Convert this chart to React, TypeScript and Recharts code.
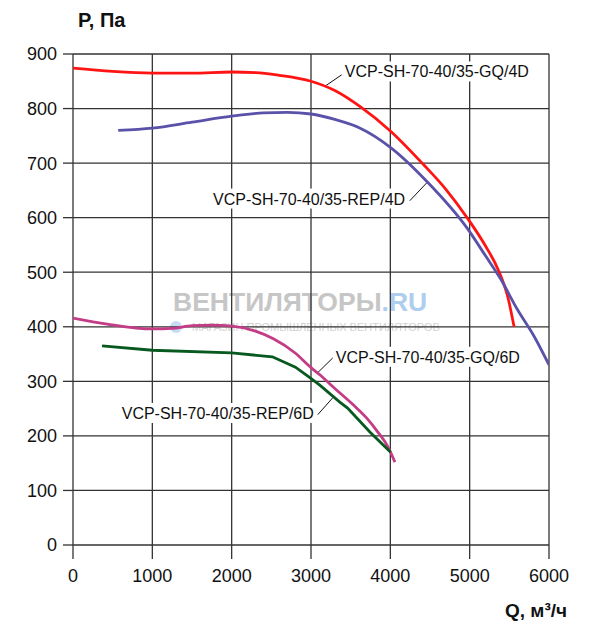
import React from "react";
import { LineChart, Line, XAxis, YAxis, CartesianGrid, ReferenceDot, ReferenceLine } from "recharts";

const xTicks = [0, 1000, 2000, 3000, 4000, 5000, 6000];
const yTicks = [0, 100, 200, 300, 400, 500, 600, 700, 800, 900];

const gq4dQ = [0, 500, 1000, 1500, 2000, 2300, 2600, 3000, 3300, 3625, 4000, 4420, 4700, 4977, 5200, 5355, 5480, 5560];
const gq4dP = [874, 868, 865, 865, 867, 866, 861, 850, 833, 803, 759, 697, 652, 598, 548, 506, 455, 400];

const rep4dQ = [570, 1000, 1500, 2000, 2400, 2700, 3000, 3300, 3620, 4000, 4470, 4977, 5200, 5393, 5600, 5810, 6000];
const rep4dP = [760, 764, 775, 786, 792, 793, 790, 780, 764, 729, 665, 579, 530, 487, 432, 383, 330];

const gq6dQ = [0, 430, 1000, 1250, 1500, 1750, 2008, 2300, 2526, 2800, 2994, 3111, 3300, 3532, 3700, 3843, 3970, 4058];
const gq6dP = [416, 405, 396, 397, 402, 403, 401, 392, 378, 352, 326, 312, 287, 257, 233, 207, 180, 152];

const rep6dQ = [366, 1000, 2000, 2513, 2804, 2994, 3111, 3363, 3461, 3742, 4004];
const rep6dP = [365, 357, 352, 345, 326, 306, 293, 262, 251, 207, 170];

const seriesNames = ["VCP-SH-70-40/35-GQ/4D", "VCP-SH-70-40/35-REP/4D", "VCP-SH-70-40/35-GQ/6D", "VCP-SH-70-40/35-REP/6D"];
// label anchor (data coords), anchor side, leader segment
const labelQ = [3426, 4186, 3313, 3035];
const labelP = [868, 635, 345, 242];
const labelSide = ["start", "end", "start", "end"];
const leaderQ1 = [3187, 4245, 3086, 3086];
const leaderP1 = [842, 631, 316, 239];
const leaderQ2 = [3388, 4460, 3275, 3275];
const leaderP2 = [862, 664, 343, 270];

const zip = (q: number[], p: number[]) => q.map((v, i) => ({ q: v, p: p[i] }));

const gq4d = zip(gq4dQ, gq4dP);
const rep4d = zip(rep4dQ, rep4dP);
const gq6d = zip(gq6dQ, gq6dP);
const rep6d = zip(rep6dQ, rep6dP);

const FONT = '"Liberation Sans", Arial, sans-serif';

const charW: Record<string, number> = {
  V: 0.667, C: 0.722, P: 0.667, S: 0.667, H: 0.722, G: 0.778, Q: 0.778, D: 0.722, R: 0.722, E: 0.667,
  "-": 0.333, "/": 0.278,
};
const textWidth = (s: string, size: number) =>
  s.split("").reduce((a, c) => a + (charW[c] ?? 0.556), 0) * size;

const makeLabelShape = (text: string, side: string) => (props: any) => {
  const { cx, cy } = props;
  if (cx == null || cy == null) return null;
  const w = textWidth(text, 16);
  const x = side === "start" ? cx : cx - w;
  return (
    <g>
      <rect x={x - 3} y={cy - 10} width={w + 6} height={20} fill="#ffffff" />
      <text x={x} y={cy + 6} fontSize={16} fill="#111" fontFamily={FONT}>
        {text}
      </text>
    </g>
  );
};

export default function App() {
  return (
    <div style={{ position: "absolute", left: 0, top: 0, width: 600, height: 626, background: "#fff", fontFamily: FONT }}>
      <svg width={600} height={626} style={{ position: "absolute", left: 0, top: 0 }}>
        <text x={78} y={27} fontSize={20} fontWeight="bold" fill="#111" fontFamily={FONT}>P, Па</text>
        <text x={505} y={617} fontSize={19} fontWeight="bold" fill="#111" fontFamily={FONT}>Q, м³/ч</text>
        <text x={173} y={311} fontSize={26.5} fontWeight="bold" fill="#c6c6c6" fontFamily={FONT}>
          ВЕНТИЛЯТОРЫ<tspan fill="#aecdef">.RU</tspan>
        </text>
        <circle cx={176} cy={327} r={6} fill="#c5dcf3" />
        <text x={192} y={331} fontSize={11} fill="#d2d2d2" fontFamily={FONT}>МАГАЗИН ПРОМЫШЛЕННЫХ ВЕНТИЛЯТОРОВ</text>
      </svg>
      <div style={{ position: "absolute", left: 0, top: 0 }}>
        <LineChart width={600} height={626} margin={{ top: 54, right: 51, left: 0, bottom: 0 }}>
          <CartesianGrid stroke="#333" strokeWidth={1.3} />
          <XAxis
            type="number"
            dataKey="q"
            domain={[0, 6000]}
            ticks={xTicks}
            height={81}
            tickSize={14}
            tickMargin={10}
            axisLine={false}
            tickLine={{ stroke: "#333", strokeWidth: 1.3 }}
            tick={{ fill: "#111", fontSize: 18, fontFamily: FONT }}
            allowDataOverflow
          />
          <YAxis
            type="number"
            domain={[0, 900]}
            ticks={yTicks}
            width={73}
            tickSize={10}
            tickMargin={6}
            axisLine={false}
            tickLine={{ stroke: "#333", strokeWidth: 1.3 }}
            tick={{ fill: "#111", fontSize: 18, fontFamily: FONT }}
            allowDataOverflow
          />
          {seriesNames.map((n, i) => (
            <ReferenceLine
              key={"l" + i}
              segment={[{ x: leaderQ1[i], y: leaderP1[i] }, { x: leaderQ2[i], y: leaderP2[i] }]}
              stroke="#111"
              strokeWidth={1}
            />
          ))}
          <Line data={gq4d} dataKey="p" type="monotone" stroke="#ff1414" strokeWidth={2.8} dot={false} activeDot={false} isAnimationActive={false} />
          <Line data={rep4d} dataKey="p" type="monotone" stroke="#5a52a8" strokeWidth={2.8} dot={false} activeDot={false} isAnimationActive={false} />
          <Line data={gq6d} dataKey="p" type="monotone" stroke="#c33c85" strokeWidth={2.8} dot={false} activeDot={false} isAnimationActive={false} />
          <Line data={rep6d} dataKey="p" type="linear" stroke="#07591f" strokeWidth={2.8} dot={false} activeDot={false} isAnimationActive={false} />
          {seriesNames.map((n, i) => (
            <ReferenceDot
              key={"d" + i}
              x={labelQ[i]}
              y={labelP[i]}
              r={0}
              shape={makeLabelShape(n, labelSide[i])}
            />
          ))}
        </LineChart>
      </div>
    </div>
  );
}
